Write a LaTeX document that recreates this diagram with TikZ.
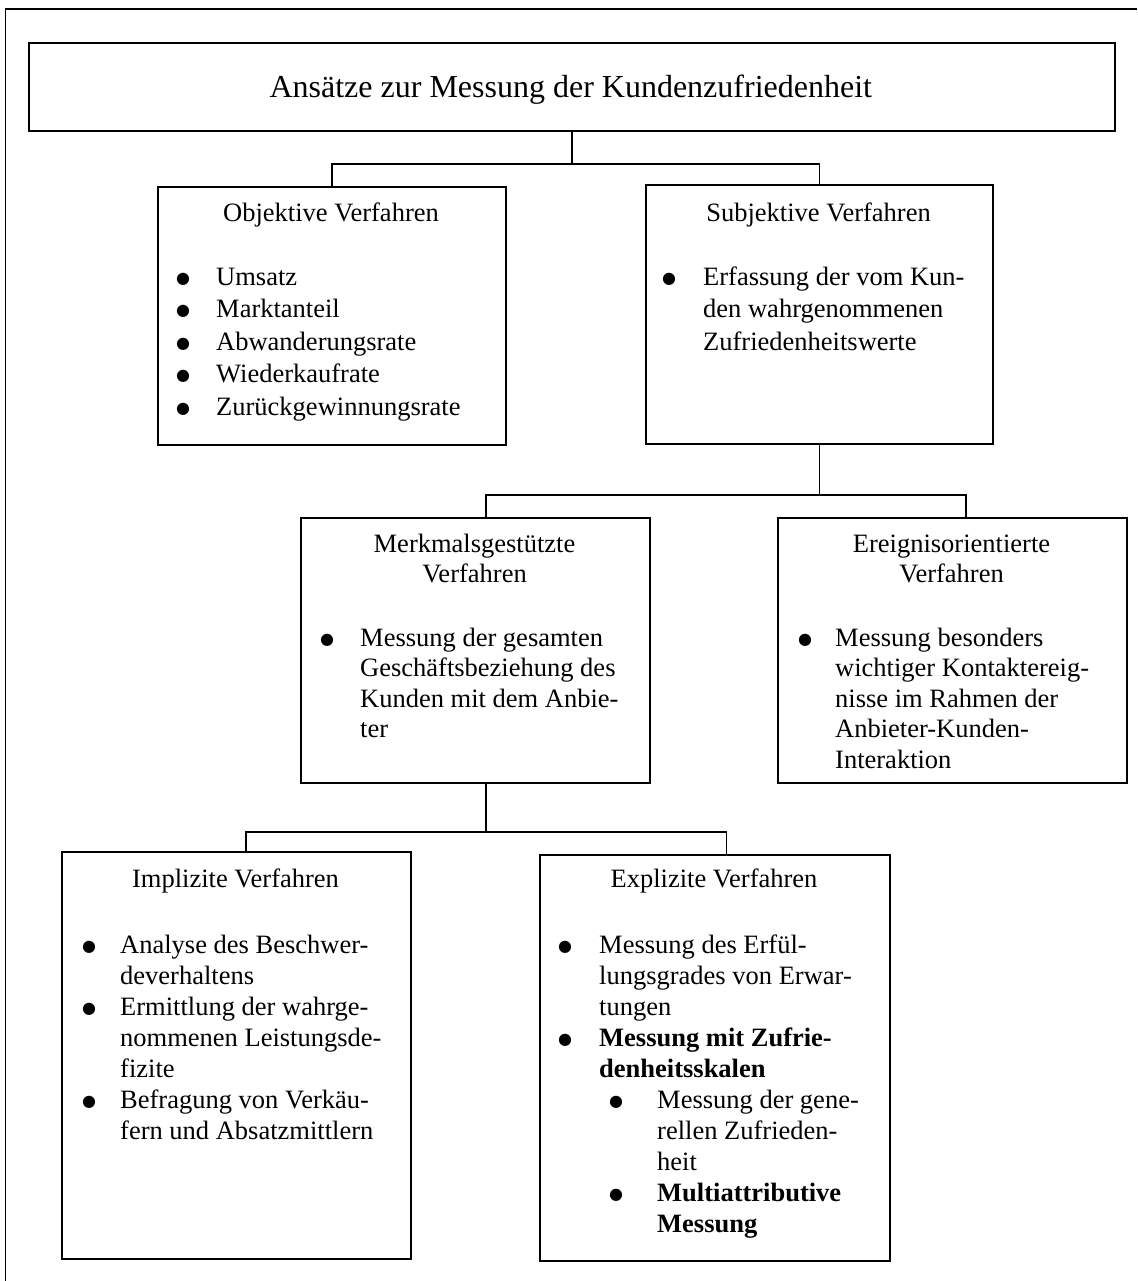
\documentclass[tikz,border=0pt]{standalone}
\usepackage{fontspec}
\setmainfont{Liberation Serif}
\newfontfamily\dotfont{DejaVu Sans}
\usetikzlibrary{calc}
\begin{document}
\begin{tikzpicture}[x=1pt,y=-1pt,
  frame/.style={line width=1.5pt},
  box/.style={draw,line width=2pt,anchor=north west,inner sep=0pt},
  conn/.style={line width=1.4pt},
  txt/.style={inner sep=0pt,font=\fontsize{26.5}{31}\selectfont},
  head/.style={txt,anchor=base},
  ln/.style={txt,anchor=base west},
  bold/.style={ln,font=\fontsize{26.5}{31}\selectfont\bfseries},
  bul/.style={inner sep=0pt,anchor=base,font=\dotfont\fontsize{16}{16}\selectfont,yshift=2pt},
]
\useasboundingbox (0,0) rectangle (1137,1281);

% outer frame (only top and left edges lie inside the page)
\draw[frame] (5.5,1281) -- (5.5,9) -- (1137,9);

% boxes
\node[box,minimum width=1086.4pt,minimum height=88pt] (title) at (27.6,42) {};
\node[box,minimum width=348pt,minimum height=258pt] (obj) at (157,186) {};
\node[box,minimum width=347pt,minimum height=259pt] (subj) at (645,184) {};
\node[box,minimum width=349pt,minimum height=265pt] (merk) at (300,517) {};
\node[box,minimum width=349pt,minimum height=265pt] (ereig) at (777,517) {};
\node[box,minimum width=349pt,minimum height=407pt] (impl) at (61,851) {};
\node[box,minimum width=350pt,minimum height=406pt] (expl) at (539,854) {};

% connectors
\coordinate (j1) at ($(title.south)+(0,32)$);
\draw[conn] (title.south) -- (j1);
\draw[conn] (obj.north) |- (j1) -| (subj.north);

\coordinate (j2) at ($(subj.south)+(0,50)$);
\draw[conn] (subj.south) -- (j2);
\draw[conn] ($(merk.north)+(10.5,0)$) |- (j2) -| ($(ereig.north)+(13.5,0)$);

\coordinate (j3) at ($(merk.south)+(10.5,48)$);
\draw[conn] ($(merk.south)+(10.5,0)$) -- (j3);
\draw[conn] ($(impl.north)+(9.5,0)$) |- (j3) -| ($(expl.north)+(11.5,0)$);

% title
\node[inner sep=0pt,anchor=base,font=\fontsize{32}{38}\selectfont] (tt) at (570.8,97.5)
  {Ansätze zur Messung der Kundenzufriedenheit};

% objective methods
\node[head] (oh) at (331,221.5) {Objektive Verfahren};
\node[bul] (ob1) at (183,285) {●};   \node[ln] (o1) at (216,285) {Umsatz};
\node[bul] (ob2) at (183,317.5) {●}; \node[ln] (o2) at (216,317.5) {Marktanteil};
\node[bul] (ob3) at (183,350) {●};   \node[ln] (o3) at (216,350) {Abwanderungsrate};
\node[bul] (ob4) at (183,382.5) {●}; \node[ln] (o4) at (216,382.5) {Wiederkaufrate};
\node[bul] (ob5) at (183,415) {●};   \node[ln] (o5) at (216,415) {Zurückgewinnungsrate};

% subjective methods
\node[head] (sh) at (818.5,221.5) {Subjektive Verfahren};
\node[bul] (sb1) at (669,285) {●}; \node[ln] (s1) at (703,285) {Erfassung der vom Kun-};
\node[ln] (s2) at (703,317.5) {den wahrgenommenen};
\node[ln] (s3) at (703,350) {Zufriedenheitswerte};

% feature-based methods
\node[head] (mh1) at (474.5,552) {Merkmalsgestützte};
\node[head] (mh2) at (474.5,582.5) {Verfahren};
\node[bul] (mb1) at (327,646) {●}; \node[ln] (m1) at (360,646) {Messung der gesamten};
\node[ln] (m2) at (360,676.5) {Geschäftsbeziehung des};
\node[ln] (m3) at (360,707) {Kunden mit dem Anbie-};
\node[ln] (m4) at (360,737.5) {ter};

% event-based methods
\node[head] (eh1) at (951.5,552) {Ereignisorientierte};
\node[head] (eh2) at (951.5,582.5) {Verfahren};
\node[bul] (eb1) at (805,646) {●}; \node[ln] (e1) at (835,646) {Messung besonders};
\node[ln] (e2) at (835,676.5) {wichtiger Kontaktereig-};
\node[ln] (e3) at (835,707) {nisse im Rahmen der};
\node[ln] (e4) at (835,737.5) {Anbieter-Kunden-};
\node[ln] (e5) at (835,768) {Interaktion};

% implicit methods
\node[head] (ih) at (235.5,887) {Implizite Verfahren};
\node[bul] (ib1) at (89,953) {●};  \node[ln] (i1) at (120,953) {Analyse des Beschwer-};
\node[ln] (i2) at (120,984) {deverhaltens};
\node[bul] (ib2) at (89,1015) {●}; \node[ln] (i3) at (120,1015) {Ermittlung der wahrge-};
\node[ln] (i4) at (120,1046) {nommenen Leistungsde-};
\node[ln] (i5) at (120,1077) {fizite};
\node[bul] (ib3) at (89,1108) {●}; \node[ln] (i6) at (120,1108) {Befragung von Verkäu-};
\node[ln] (i7) at (120,1139) {fern und Absatzmittlern};

% explicit methods
\node[head] (xh) at (714,887) {Explizite Verfahren};
\node[bul] (xb1) at (565,953) {●};  \node[ln] (x1) at (599,953) {Messung des Erfül-};
\node[ln] (x2) at (599,984) {lungsgrades von Erwar-};
\node[ln] (x3) at (599,1015) {tungen};
\node[bul] (xb2) at (565,1046) {●}; \node[bold] (x4) at (599,1046) {Messung mit Zufrie-};
\node[bold] (x5) at (599,1077) {denheitsskalen};
\node[bul] (xb3) at (616,1108) {●}; \node[ln] (x6) at (657,1108) {Messung der gene-};
\node[ln] (x7) at (657,1139) {rellen Zufrieden-};
\node[ln] (x8) at (657,1170) {heit};
\node[bul] (xb4) at (616,1201) {●}; \node[bold] (x9) at (657,1201) {Multiattributive};
\node[bold] (x10) at (657,1232) {Messung};
\end{tikzpicture}
\end{document}
